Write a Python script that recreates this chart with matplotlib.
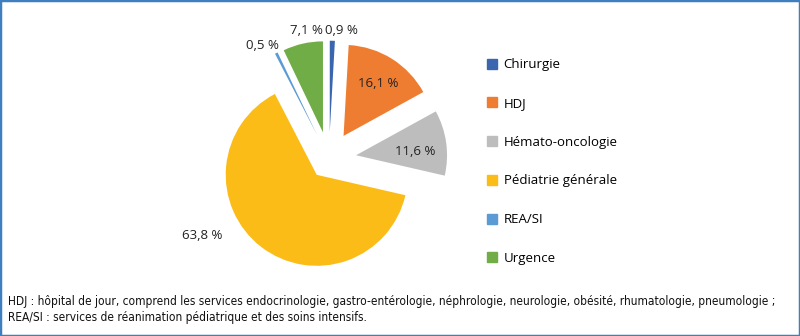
import numpy as np
import matplotlib
matplotlib.use("Agg")
import matplotlib.pyplot as plt
from matplotlib.patches import Rectangle
from matplotlib.lines import Line2D
from matplotlib import font_manager as fm

plt.rcParams['font.family'] = ['Open Sans', 'DejaVu Sans']

categories = ["Chirurgie", "HDJ", "Hémato-oncologie", "Pédiatrie générale", "REA/SI", "Urgence"]
values = [0.9, 16.1, 11.6, 63.8, 0.5, 7.1]
labels = ["0,9 %", "16,1 %", "11,6 %", "63,8 %", "0,5 %", "7,1 %"]
colors = ["#3A66B0", "#EE7D31", "#BDBDBD", "#FBBC18", "#5B9BD5", "#70AD47"]
explode = [0.3, 0.3, 0.3, 0.22, 0.3, 0.3]
note1 = "HDJ : hôpital de jour, comprend les services endocrinologie, gastro-entérologie, néphrologie, neurologie, obésité, rhumatologie, pneumologie ;"
note2 = "REA/SI : services de réanimation pédiatrique et des soins intensifs."
# label placement (radius, angular nudge in degrees, clockwise)
label_r = [1.42, 0.99, 0.95, 1.63, 1.45, 1.43]
label_nudge = [4, 1, 3, 21, -4, 3]

W, H = 800, 336
fig = plt.figure(figsize=(W / 100, H / 100), dpi=100)
ax = fig.add_axes([0, 0, 1, 1])
ax.axis("off")

R = 91.0  # px per unit
cx, cy = 329.0, H - 159.0

wedges, _ = ax.pie(values, colors=colors, explode=explode, startangle=90,
                   counterclock=False, radius=1.0,
                   wedgeprops=dict(linewidth=0))
ax.set_aspect("auto")
ax.set_xlim(-cx / R, (W - cx) / R)
ax.set_ylim(-cy / R, (H - cy) / R)

total = sum(values)
cum = 0.0
for v, lab, r, nd in zip(values, labels, label_r, label_nudge):
    mid = (cum + v / 2) / total * 360.0 + nd
    cum += v
    th = np.deg2rad(mid)
    ax.text(r * np.sin(th), r * np.cos(th), lab, ha="center", va="center",
            fontsize=9.5, color="#222222")

handles = [Line2D([], [], marker="s", linestyle="none", markersize=6.5,
                  markerfacecolor=c, markeredgecolor=c) for c in colors]
fig.legend(handles, categories, loc="upper left", bbox_to_anchor=(480 / W, 1 - 53 / H),
           frameon=False, fontsize=9.5, labelspacing=1.95, handletextpad=0.4,
           handlelength=1.0, borderaxespad=0)

note_family = ["DejaVu Sans"]
t1 = fig.text(8 / W, 1 - 302 / H, note1, fontsize=8.5, family=note_family,
              fontstretch="condensed", va="center", ha="left", color="#111111")
t2 = fig.text(8 / W, 1 - 318 / H, note2, fontsize=8.5, family=note_family,
              fontstretch="condensed", va="center", ha="left", color="#111111")
fig.canvas.draw()
w1 = t1.get_window_extent().width
scale = 772.0 / w1
for t in (t1, t2):
    t.set_fontsize(8.5 * scale)

fig.patches.append(Rectangle((0, 0), 1, 1, transform=fig.transFigure, fill=False,
                             edgecolor="#3F7FBF", linewidth=2.5))

fig.savefig("out.png", dpi=100)
